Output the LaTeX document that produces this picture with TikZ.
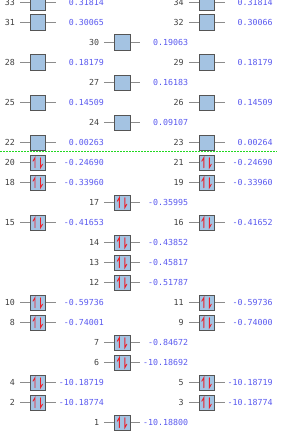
\documentclass[tikz,border=0pt]{standalone}
\usepackage{fontspec}
\setmonofont{DejaVu Sans Mono}
\definecolor{boxfill}{HTML}{A4C3E2}
\definecolor{boxline}{HTML}{555555}
\definecolor{stubgray}{HTML}{8C8C8C}
\definecolor{valblue}{HTML}{5A5AF0}
\definecolor{numgray}{HTML}{404040}
\definecolor{spinred}{HTML}{E8202A}
\definecolor{gapgreen}{HTML}{22D822}
\tikzset{
  mobox/.style={draw=boxline,fill=boxfill,line width=0.9pt,minimum size=15.5pt,inner sep=0pt},
  stub/.style={draw=stubgray,line width=1.3pt},
  numlabel/.style={anchor=east,inner sep=0pt,text=numgray,font=\ttfamily\fontsize{8.3}{9}\selectfont},
  vallabel/.style={anchor=east,inner sep=0pt,text=valblue,font=\ttfamily\fontsize{8.3}{9}\selectfont},
  spin/.style={draw=spinred,line width=0.9pt,line cap=round},
  gapline/.style={draw=gapgreen,line width=1.2pt,dash pattern=on 2pt off 1pt}
}
% #1 column centre, #2 row, #3 orbital number, #4 energy, #5 occupied (1/0)
\newcommand{\molevel}[5]{%
  \coordinate (c#3) at (#1,{-2.7-20*#2});
  \draw[stub] ([xshift=-18pt]c#3) -- ([xshift=18pt]c#3);
  \node[mobox] (m#3) at (c#3) {};
  \node[numlabel] (n#3) at ([xshift=-23pt]c#3) {#3};
  \node[vallabel] (v#3) at ([xshift=66pt]c#3) {#4};
  \ifnum#5=1
    \draw[spin] ([shift={(-3pt,-5pt)}]m#3.center) -- ([shift={(-3pt,5pt)}]m#3.center) -- ([shift={(-5pt,1.5pt)}]m#3.center);
    \draw[spin] ([shift={(2.5pt,5pt)}]m#3.center) -- ([shift={(2.5pt,-5pt)}]m#3.center) -- ([shift={(4.5pt,-1.5pt)}]m#3.center);
  \fi
}
\begin{document}
\begin{tikzpicture}[x=1pt,y=1pt]
\useasboundingbox (0,-444) rectangle (300,0);
\clip (0,-444) rectangle (300,0);
\fill[white] (0,-444) rectangle (300,0);
\foreach \r/\n/\e/\o in {0/33/0.31814/0, 1/31/0.30065/0, 3/28/0.18179/0, 5/25/0.14509/0,
  7/22/0.00263/0, 8/20/-0.24690/1, 9/18/-0.33960/1, 11/15/-0.41653/1, 15/10/-0.59736/1,
  16/8/-0.74001/1, 19/4/-10.18719/1, 20/2/-10.18774/1}
  {\molevel{38}{\r}{\n}{\e}{\o}}
\foreach \r/\n/\e/\o in {2/30/0.19063/0, 4/27/0.16183/0, 6/24/0.09107/0, 10/17/-0.35995/1,
  12/14/-0.43852/1, 13/13/-0.45817/1, 14/12/-0.51787/1, 17/7/-0.84672/1,
  18/6/-10.18692/1, 21/1/-10.18800/1}
  {\molevel{122.3}{\r}{\n}{\e}{\o}}
\foreach \r/\n/\e/\o in {0/34/0.31814/0, 1/32/0.30066/0, 3/29/0.18179/0, 5/26/0.14509/0,
  7/23/0.00264/0, 8/21/-0.24690/1, 9/19/-0.33960/1, 11/16/-0.41652/1, 15/11/-0.59736/1,
  16/9/-0.74000/1, 19/5/-10.18719/1, 20/3/-10.18774/1}
  {\molevel{206.8}{\r}{\n}{\e}{\o}}
\coordinate (gapL) at (0,-151.5);
\coordinate (gapR) at (277,-151.5);
\draw[gapline] (gapL) -- (gapR);
\end{tikzpicture}
\end{document}
